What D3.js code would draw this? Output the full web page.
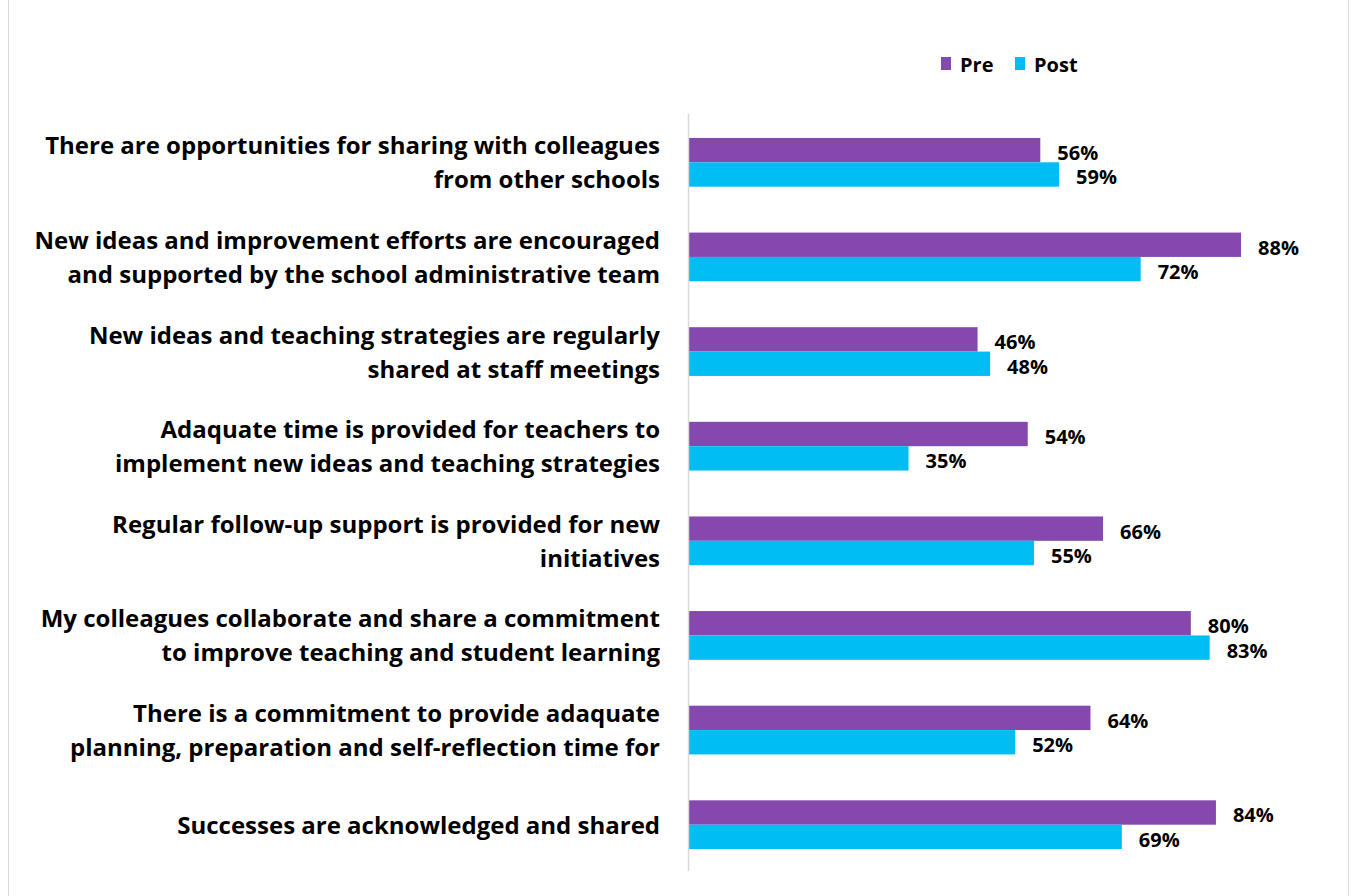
<!DOCTYPE html>
<html>
<head>
<meta charset="utf-8">
<script src="https://cdn.jsdelivr.net/npm/d3@7"></script>
<style>
  body { margin: 0; background: #fff; }
  svg text { font-family: "Open Sans", Lato, sans-serif; font-weight: 700; fill: #000; }
</style>
</head>
<body>
<div id="chart"></div>
<script>
// categories (each label split into its lines)
const categories = [
  ["There are opportunities for sharing with colleagues", "from other schools"],
  ["New ideas and improvement efforts are encouraged", "and supported by the school administrative team"],
  ["New ideas and teaching strategies are regularly", "shared at staff meetings"],
  ["Adaquate time is provided for teachers to", "implement new ideas and teaching strategies"],
  ["Regular follow-up support is provided for new", "initiatives"],
  ["My colleagues collaborate and share a commitment", "to improve teaching and student learning"],
  ["There is a commitment to provide adaquate", "planning, preparation and self-reflection time for"],
  ["Successes are acknowledged and shared"]
];
const series = ["Pre", "Post"];
const preValues = [0.56, 0.88, 0.46, 0.54, 0.66, 0.80, 0.64, 0.84];
const postValues = [0.59, 0.72, 0.48, 0.35, 0.55, 0.83, 0.52, 0.69];
const colors = ["#8549ad", "#00bdf2"];

const width = 1351, height = 896;

const svg = d3.select("#chart")
  .append("svg")
  .attr("width", width)
  .attr("height", height);

// outer chart frame (top/bottom run off the page)
svg.append("rect")
  .attr("x", 8.5).attr("y", -10)
  .attr("width", 1340).attr("height", height + 20)
  .attr("fill", "none")
  .attr("stroke", "#d9d9d9");

const keys = categories.map((d, i) => i);

const y = d3.scaleBand()
  .domain(keys)
  .range([115, 872])
  .paddingInner(0.485)
  .paddingOuter(0.2425);

const ySub = d3.scaleBand()
  .domain(series)
  .range([0, y.bandwidth()]);

const x = d3.scaleLinear()
  .domain([0, 1])
  .range([689, 1316.3]);

const fmt = d3.format(".0%");

// bars
const rows = keys.map(i => ({ i: i, vals: [preValues[i], postValues[i]] }));

const group = svg.selectAll("g.cat")
  .data(rows)
  .join("g")
  .attr("class", "cat")
  .attr("transform", d => `translate(0,${y(d.i)})`);

group.selectAll("rect")
  .data(d => d.vals.map((v, k) => ({ v: v, s: series[k], k: k })))
  .join("rect")
  .attr("x", x(0))
  .attr("y", d => ySub(d.s))
  .attr("width", d => x(d.v) - x(0))
  .attr("height", ySub.bandwidth())
  .attr("fill", d => colors[d.k]);

group.selectAll("text.val")
  .data(d => d.vals.map((v, k) => ({ v: v, s: series[k], k: k })))
  .join("text")
  .attr("class", "val")
  .attr("x", d => x(d.v) + 17)
  .attr("y", d => ySub(d.s) + ySub.bandwidth() / 2 + 10)
  .attr("font-size", 20)
  .text(d => fmt(d.v));

// vertical axis line
svg.append("line")
  .attr("x1", 688.5).attr("x2", 688.5)
  .attr("y1", 114).attr("y2", 871)
  .attr("stroke", "#d9d9d9")
  .attr("stroke-width", 1.5);

// category labels
const labels = svg.selectAll("text.cat-label")
  .data(rows)
  .join("text")
  .attr("class", "cat-label")
  .attr("text-anchor", "end")
  .attr("font-size", 24);

labels.each(function (d) {
  const lines = categories[d.i];
  const cy = y(d.i) + y.bandwidth() / 2;
  const lh = 34;
  const top = cy - (lines.length - 1) * lh / 2 + 9;
  d3.select(this).selectAll("tspan")
    .data(lines)
    .join("tspan")
    .attr("x", 660)
    .attr("y", (t, j) => top + j * lh)
    .text(t => t);
});

// legend
const legend = svg.append("g");
const legendX = [941, 1015];
series.forEach((s, k) => {
  legend.append("rect")
    .attr("x", legendX[k]).attr("y", 57)
    .attr("width", 10).attr("height", 13)
    .attr("fill", colors[k]);
  legend.append("text")
    .attr("x", legendX[k] + 19).attr("y", 72)
    .attr("font-size", 20)
    .text(s);
});
</script>
</body>
</html>
